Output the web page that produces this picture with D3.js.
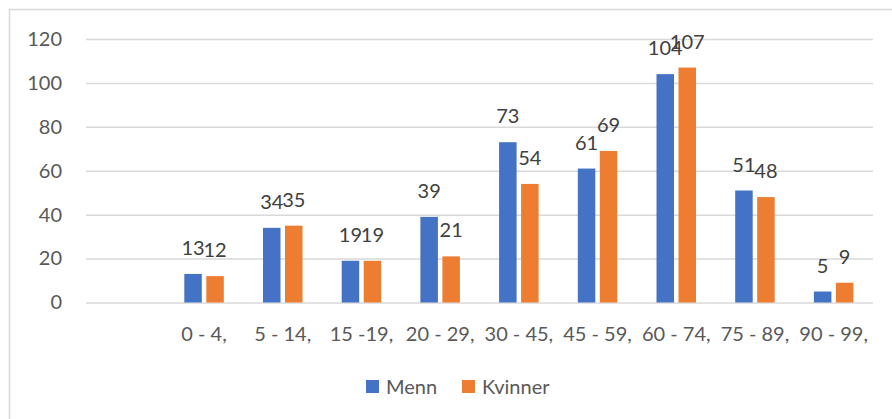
<!DOCTYPE html>
<html>
<head>
<meta charset="utf-8">
<script src="https://cdn.jsdelivr.net/npm/d3@7"></script>
<style>
    body { margin: 0; background: #fff; }
    svg { display: block; font-family: Lato, "Open Sans", sans-serif; }
</style>
</head>
<body>
<div class="my_div"></div>
<script>
// Age groups (first slot is empty in the original chart)
var categories = ["", "0 - 4,", "5 - 14,", "15 -19,", "20 - 29,", "30 - 45,", "45 - 59,", "60 - 74,", "75 - 89,", "90 - 99,"];
var seriesNames = ["Menn", "Kvinner"];
var menn = [null, 13, 34, 19, 39, 73, 61, 104, 51, 5];
var kvinner = [null, 12, 35, 19, 21, 54, 69, 107, 48, 9];
var yTicks = [0, 20, 40, 60, 80, 100, 120];

var colors = { "Menn": "#4472C4", "Kvinner": "#ED7D31" };

var width = 892,
    height = 419,
    plotLeft = 86,
    plotRight = 873,
    plotTop = 39,
    plotBottom = 302.5;

var rows = categories.map((c, i) => {
    return { cat: c, values: [{ key: "Menn", v: menn[i] }, { key: "Kvinner", v: kvinner[i] }] };
});

var svg = d3.select(".my_div")
    .append("svg")
    .attr("width", width)
    .attr("height", height);

// Light chart border
svg.append("rect")
    .attr("x", 9.5)
    .attr("y", 9.5)
    .attr("width", 920)
    .attr("height", 440)
    .attr("fill", "none")
    .attr("stroke", "#D9D9D9")
    .attr("stroke-width", 1.5);

var xScale = d3.scaleBand()
    .domain(categories)
    .range([plotLeft, plotRight]);

var bw = xScale.bandwidth();
var groupW = 39.5;

var xInner = d3.scaleBand()
    .domain(seriesNames)
    .range([(bw - groupW) / 2, (bw + groupW) / 2])
    .paddingInner(0.2045);

var yScale = d3.scaleLinear()
    .domain([0, 120])
    .range([plotBottom, plotTop]);

// Y axis with gridlines
var yAxis = svg.append("g")
    .attr("transform", "translate(" + plotLeft + ",0)")
    .call(d3.axisLeft(yScale).tickValues(yTicks).tickSize(-(plotRight - plotLeft)).tickPadding(24));

yAxis.select(".domain").remove();
yAxis.selectAll("line").attr("stroke", "#D9D9D9").attr("stroke-width", 1.5);
yAxis.selectAll("text")
    .attr("fill", "#595959")
    .style("font-size", "20px")
    .style("font-family", "Lato, sans-serif");

// X axis labels
var xAxis = svg.append("g")
    .attr("transform", "translate(0," + plotBottom + ")")
    .call(d3.axisBottom(xScale).tickSize(0).tickPadding(24));

xAxis.select(".domain").remove();
xAxis.selectAll("text")
    .attr("fill", "#595959")
    .style("font-size", "20px")
    .style("font-family", "Lato, sans-serif");

// Bars
var groups = svg.selectAll("g.grp")
    .data(rows)
    .enter()
    .append("g")
    .attr("class", "grp")
    .attr("transform", (d) => { return "translate(" + xScale(d.cat) + ",0)"; });

var bars = groups.selectAll("rect")
    .data((d) => { return d.values.filter((v) => { return v.v != null; }); })
    .enter();

bars.append("rect")
    .attr("x", (d) => { return xInner(d.key); })
    .attr("y", (d) => { return yScale(d.v); })
    .attr("width", xInner.bandwidth())
    .attr("height", (d) => { return plotBottom - yScale(d.v); })
    .attr("fill", (d) => { return colors[d.key]; });

// Value labels
bars.append("text")
    .text((d) => { return d.v; })
    .attr("x", (d) => { return xInner(d.key) + xInner.bandwidth() / 2; })
    .attr("y", (d) => { return yScale(d.v) - 19; })
    .attr("text-anchor", "middle")
    .attr("fill", "#404040")
    .style("font-size", "20px");

// Legend
var legend = svg.append("g")
    .attr("transform", "translate(366,380)");

var legendX = [0, 96];

var item = legend.selectAll("g")
    .data(seriesNames)
    .enter()
    .append("g")
    .attr("transform", (d, i) => { return "translate(" + legendX[i] + ",0)"; });

item.append("rect")
    .attr("width", 13)
    .attr("height", 13)
    .attr("fill", (d) => { return colors[d]; });

item.append("text")
    .text((d) => { return d; })
    .attr("x", 20)
    .attr("y", 14)
    .attr("fill", "#595959")
    .style("font-size", "20px");
</script>
</body>
</html>
